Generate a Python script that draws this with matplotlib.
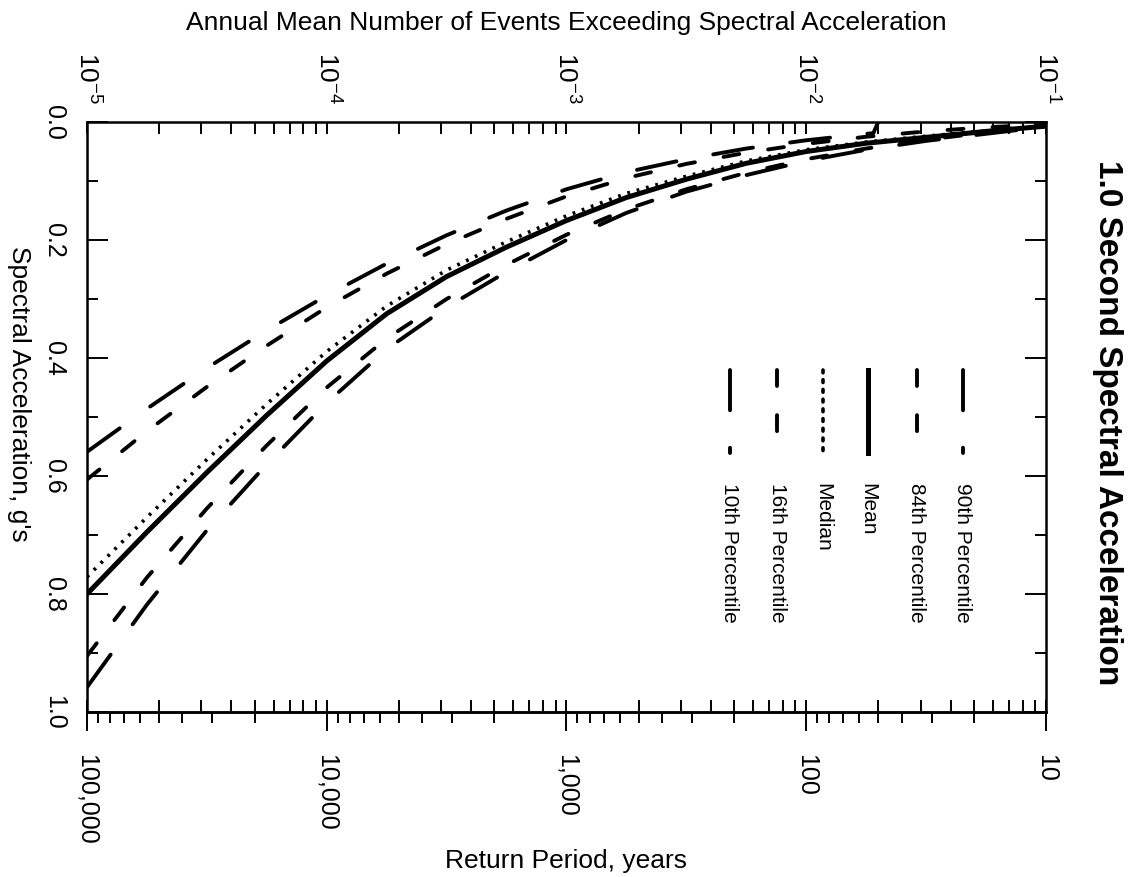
import numpy as np
import matplotlib
matplotlib.use("Agg")
import matplotlib.pyplot as plt
from matplotlib.ticker import FixedLocator, NullFormatter

plt.rcParams['font.family'] = ['Liberation Sans', 'DejaVu Sans']
plt.rcParams['mathtext.fontset'] = 'custom'
plt.rcParams['mathtext.rm'] = 'Liberation Sans'
plt.rcParams['lines.scale_dashes'] = False

# annual mean number of events (log10) where the curves were read
freq_exp = [-5.0, -4.75, -4.5, -4.25, -4.0, -3.75, -3.5, -3.25, -3.0,
            -2.75, -2.5, -2.25, -2.0, -1.75, -1.5, -1.25, -1.0]

# spectral acceleration (g) for each hazard curve
mean_sa = [0.800, 0.695, 0.594, 0.497, 0.405, 0.325, 0.262, 0.212, 0.167,
           0.128, 0.097, 0.070, 0.050, 0.036, 0.026, 0.016, 0.007]
median_sa = [0.771, 0.670, 0.572, 0.478, 0.389, 0.312, 0.251, 0.203, 0.159,
             0.121, 0.092, 0.066, 0.047, 0.034, 0.024, 0.015, 0.006]
p16_sa = [0.606, 0.524, 0.449, 0.379, 0.314, 0.257, 0.207, 0.164, 0.126,
          0.095, 0.071, 0.052, 0.037, 0.025, 0.016, 0.009, 0.004]
p84_sa = [0.905, 0.772, 0.655, 0.548, 0.450, 0.367, 0.300, 0.242, 0.191,
          0.148, 0.114, 0.086, 0.063, 0.045, 0.030, 0.018, 0.007]
p90_sa = [0.958, 0.818, 0.692, 0.580, 0.476, 0.385, 0.314, 0.254, 0.200,
          0.154, 0.118, 0.090, 0.066, 0.047, 0.032, 0.020, 0.008]

# 10th percentile drops to zero before 10^-1
p10_exp = [-5.0, -4.75, -4.5, -4.25, -4.0, -3.75, -3.5, -3.25, -3.0,
           -2.75, -2.5, -2.25, -2.0, -1.75, -1.72, -1.70]
p10_sa = [0.559, 0.486, 0.417, 0.353, 0.294, 0.240, 0.192, 0.150, 0.114,
          0.085, 0.063, 0.045, 0.031, 0.020, 0.019, 0.0]

sa_ticks = [0.0, 0.2, 0.4, 0.6, 0.8, 1.0]
sa_minor = [0.1, 0.3, 0.5, 0.7, 0.9]
period_ticks = [100000, 10000, 1000, 100, 10]
period_labels = ['100,000', '10,000', '1,000', '100', '10']

long_dash = (0, (29, 27))
short_dash = (0, (11.5, 21))
dots = (0, (2, 5))

freq = 10.0 ** np.array(freq_exp)
freq10 = 10.0 ** np.array(p10_exp)

fig = plt.figure(figsize=(11.34, 8.77), dpi=100)
ax = fig.add_axes([0.0767, 0.1881, 0.8457, 0.6728])

ax.plot(freq, p90_sa, color='black', lw=2.8, ls=long_dash, dash_capstyle='round')
ax.plot(freq, p84_sa, color='black', lw=2.8, ls=short_dash, dash_capstyle='round')
ax.plot(freq, median_sa, color='black', lw=2.6, ls=dots)
ax.plot(freq, mean_sa, color='black', lw=3.6)
ax.plot(freq, p16_sa, color='black', lw=2.8, ls=short_dash, dash_capstyle='round')
ax.plot(freq10, p10_sa, color='black', lw=2.8, ls=long_dash, dash_capstyle='round')

ax.set_xscale('log')
ax.set_xlim(1e-5, 1e-1)
ax.set_ylim(1.0, 0.0)

for s in ax.spines.values():
    s.set_linewidth(1.8)

# top axis: annual frequency
ax.xaxis.set_ticks_position('both')
ax.xaxis.set_minor_formatter(NullFormatter())
ax.tick_params(axis='x', which='both', direction='in', length=8.5, width=1.4,
               top=True, bottom=True, labeltop=True, labelbottom=False,
               labelrotation=-90, labelsize=19, pad=13)
ax.set_xlabel('Annual Mean Number of Events Exceeding Spectral Acceleration',
              fontsize=19, labelpad=16)
ax.xaxis.set_label_position('top')

# y axis: spectral acceleration
ax.yaxis.set_major_locator(FixedLocator(sa_ticks))
ax.yaxis.set_minor_locator(FixedLocator(sa_minor))
ax.set_yticklabels(['%.1f' % v for v in sa_ticks])
ax.tick_params(axis='y', which='both', direction='in', width=1.4,
               left=True, right=True, labelleft=True, labelright=False,
               labelrotation=-90, labelsize=18, pad=15)
ax.tick_params(axis='y', which='major', length=15)
ax.tick_params(axis='y', which='minor', length=8)
plt.setp(ax.get_yticklabels(), va='center')
ax.set_ylabel("Spectral Acceleration, g's", fontsize=19, rotation=-90, va='top')
ax.yaxis.set_label_coords(-0.058, 0.54)

# bottom axis: return period
def inv(x):
    x = np.array(x, float)
    out = np.full_like(x, np.inf)
    nz = x != 0
    out[nz] = 1.0 / x[nz]
    return out

secax = ax.secondary_xaxis('bottom', functions=(inv, inv))
secax.xaxis.set_major_locator(FixedLocator(period_ticks))
secax.set_xticklabels(period_labels)
period_minor = [m * 10 ** k for k in range(1, 5) for m in range(2, 10)]
secax.xaxis.set_minor_locator(FixedLocator(period_minor))
secax.xaxis.set_minor_formatter(NullFormatter())
secax.tick_params(axis='x', which='major', direction='out', length=14, width=1.4,
                  labelrotation=-90, labelsize=18, pad=16)
secax.tick_params(axis='x', which='minor', direction='out', length=8, width=1.4)
secax.spines['bottom'].set_linewidth(1.8)
secax.set_xlabel('Return Period, years', fontsize=19, labelpad=3)

# legend drawn in the rotated orientation
leg_names = ['90th Percentile', '84th Percentile', 'Mean', 'Median',
             '16th Percentile', '10th Percentile']
leg_styles = [long_dash, short_dash, '-', dots, short_dash, long_dash]
leg_widths = [2.8, 2.8, 3.6, 2.6, 2.8, 2.8]
leg_x = [0.913, 0.865, 0.814, 0.767, 0.720, 0.670]
for name, st, lw, lx in zip(leg_names, leg_styles, leg_widths, leg_x):
    ax.plot([lx, lx], [0.580, 0.439], transform=ax.transAxes, color='black',
            lw=lw, ls=st, dash_capstyle='round', clip_on=False)
    ax.text(lx, 0.388, name, transform=ax.transAxes, rotation=-90,
            ha='center', va='top', fontsize=15)

ax.text(1.064, 0.49, '1.0 Second Spectral Acceleration', transform=ax.transAxes,
        rotation=-90, ha='center', va='center', fontsize=24, fontweight='bold')

fig.savefig('out.png', dpi=100)
